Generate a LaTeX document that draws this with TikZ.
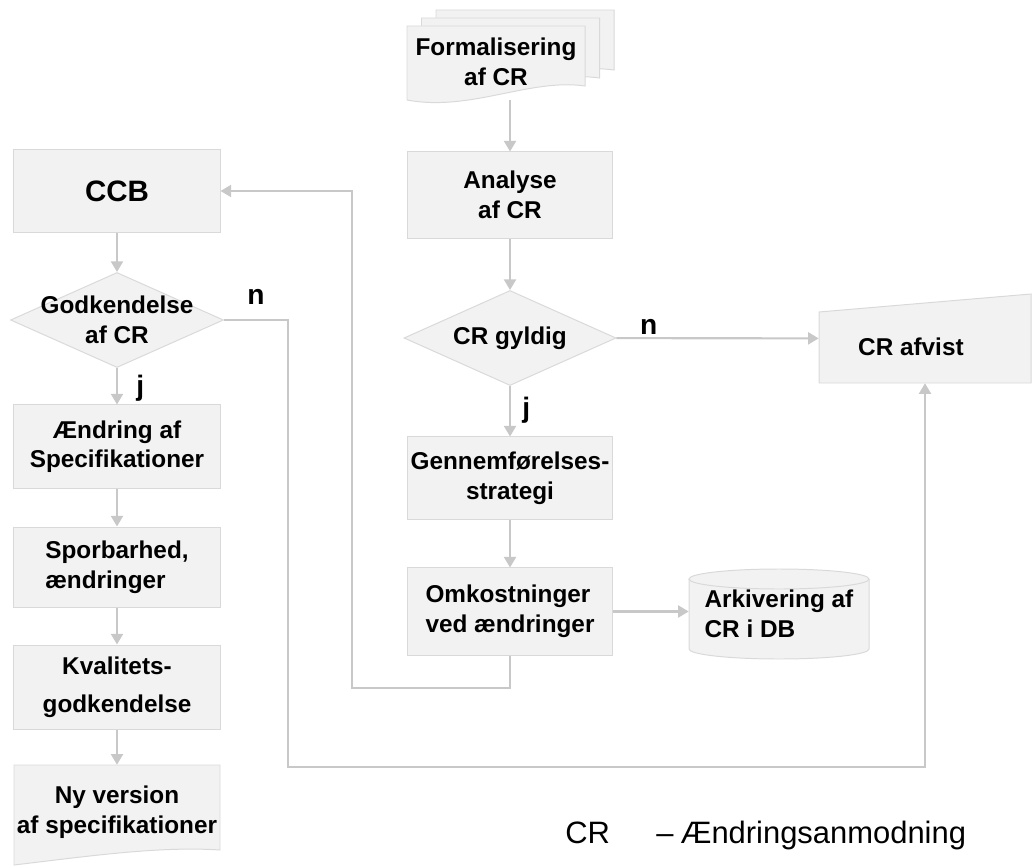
\documentclass[tikz,border=0pt]{standalone}
\usepackage{fontspec}
\setmainfont{Liberation Sans}
\usetikzlibrary{shapes.geometric,arrows.meta}
\definecolor{boxfill}{HTML}{F2F2F2}
\definecolor{boxline}{HTML}{D9D9D9}
\definecolor{arrline}{HTML}{C8C8C8}
\tikzset{
  txt/.style={font=\fontsize{17.3}{21}\selectfont\bfseries, align=center, inner sep=0pt},
  box/.style={txt, draw=boxline, fill=boxfill, line width=0.7pt},
  shapefill/.style={draw=boxline, fill=boxfill, line width=0.7pt},
  dec/.style={shapefill, diamond, inner sep=0pt, minimum width=5.3cm, minimum height=2.375cm},
  arr/.style={draw=arrline, line width=1.5pt, -{Triangle[width=8.5pt,length=7.5pt]}},
  yn/.style={font=\fontsize{20}{24}\selectfont\bfseries, inner sep=0pt},
}
\begin{document}
\begin{tikzpicture}[x=0.025cm, y=-0.025cm]
\useasboundingbox (0,0) rectangle (1032,866);

% right column
\foreach \dx/\dy in {29/-16, 14.5/-8, 0/0}
  \draw[shapefill, shift={(\dx,\dy)}] (407,26) -- (585,26) -- (585,86) .. controls (530,78) and (470,112) .. (407,100) -- cycle;
\node[txt, minimum width=4.45cm, minimum height=1.9cm] (formal) at (496,62) {Formalisering\\af CR};
\node[box, minimum width=5.1cm, minimum height=2.15cm] (analyse) at (510,195) {Analyse\\af CR};
\node[dec, label={[txt]center:CR gyldig}] (gyldig) at (510,338) {};
\node[box, minimum width=5.1cm, minimum height=2.05cm] (gennem) at (510,478) {Gennemførelses-\\strategi};
\node[box, align=left, minimum width=5.1cm, minimum height=2.175cm] (omkost) at (510,611.5) {Omkostninger\\ved ændringer};

% CR afvist and archive
\draw[shapefill] (819,312) -- (1031,294) -- (1031,383) -- (819,383) -- cycle;
\node[minimum width=5.3cm, minimum height=2.225cm, inner sep=0pt,
  label={[txt, xshift=-10pt, yshift=-6pt]center:CR afvist}] (afvist) at (925,338.5) {};
\draw[shapefill] (689,579) -- (689,649) arc[start angle=180, end angle=360, x radius=2.25cm, y radius=0.25cm]
  -- (869,579) arc[start angle=0, end angle=180, x radius=2.25cm, y radius=0.25cm] -- cycle;
\draw[draw=boxline, line width=0.7pt] (689,579) arc[start angle=180, end angle=360, x radius=2.25cm, y radius=0.25cm];
\node[txt, align=left, minimum width=4.5cm, minimum height=2.25cm] (arkiv) at (779,614) {Arkivering af\\CR i DB};

% left column
\node[box, minimum width=5.15cm, minimum height=2.05cm, font=\fontsize{21}{25}\selectfont\bfseries] (ccb) at (117,191) {CCB};
\node[dec, minimum width=5.325cm, label={[txt]center:Godkendelse\\af CR}] (godk) at (117,320) {};
\node[box, minimum width=5.15cm, minimum height=2.075cm] (aend) at (117,446.5) {Ændring af\\Specifikationer};
\node[box, align=left, minimum width=5.15cm, minimum height=2cm] (spor) at (117,567) {Sporbarhed,\\ændringer};
\node[box, minimum width=5.15cm, minimum height=2.1cm] (kval) at (117,687) {Kvalitets-\\[6pt]godkendelse};
\draw[shapefill] (14,765) -- (220,765) -- (220,850) .. controls (160,846) and (90,856) .. (14,865) -- cycle;
\node[txt, minimum width=5.15cm, minimum height=2.35cm] (nyver) at (117,812) {Ny version\\af specifikationer};

% connectors
\draw[arr] (formal.south -| analyse.north) -- (analyse.north);
\draw[arr] (analyse) -- (gyldig);
\draw[arr] (gyldig) -- node[yn, pos=0.16, above=2pt] {n} (afvist);
\draw[arr] (gyldig) -- node[yn, pos=0.47, right=8pt] {j} (gennem);
\draw[arr] (gennem) -- (omkost);
\draw[arr] (omkost) -- (omkost -| arkiv.west);
\coordinate (fb) at (352,688);
\draw[arr] (omkost.south) |- (fb) |- (ccb.east);
\draw[arr] (ccb) -- (godk);
\draw[arr] (godk) -- node[yn, pos=0.55, right=13pt] {j} (aend);
\coordinate (nl) at (288,767);
\draw[arr] (godk.east) -| node[yn, pos=0.25, above=10pt] {n} (nl) -| (afvist.south);
\draw[arr] (aend) -- (spor);
\draw[arr] (spor) -- (kval);
\draw[arr] (kval) -- (nyver);

% legend
\node[anchor=west, inner sep=0pt, font=\fontsize{22}{26}\selectfont] (legend) at (565,835) {CR\hspace{33pt}–\hspace{5pt}Ændringsanmodning};
\end{tikzpicture}
\end{document}
